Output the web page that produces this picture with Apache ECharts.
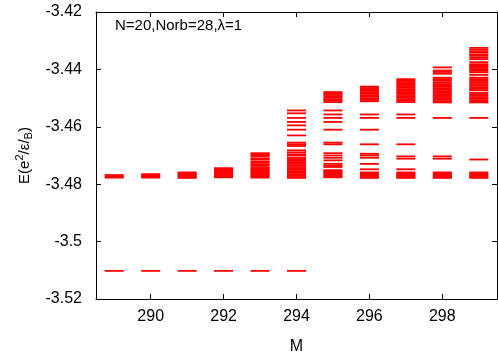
<!DOCTYPE html>
<html>
<head>
<meta charset="utf-8">
<script src="https://cdn.jsdelivr.net/npm/echarts@6/dist/echarts.min.js"></script>
<style>
  html, body { margin: 0; padding: 0; background: #fff; }
  #main { width: 498px; height: 360px; }
</style>
</head>
<body>
<div id="main"></div>
<script>
// energy levels per M
const mValues = [289, 290, 291, 292, 293, 294, 295, 296, 297, 298, 299];
const xTicks = [290, 292, 294, 296, 298];
const groundLevel = -3.5102;

const levels289 = [groundLevel, -3.4768, -3.4773, -3.4777];
const levels290 = [groundLevel, -3.4765, -3.4769, -3.4773, -3.4777];
const levels291 = [groundLevel, -3.4759, -3.4763, -3.4767, -3.4771, -3.4775, -3.4778];
const levels292 = [groundLevel, -3.4744, -3.4748, -3.4752, -3.4756, -3.4760, -3.4764, -3.4768, -3.4772, -3.4776];
const levels293 = [groundLevel, -3.4692, -3.4696, -3.4700, -3.4704, -3.4711, -3.4714, -3.4721, -3.4724,
  -3.4730, -3.4734, -3.4740, -3.4745, -3.4749, -3.4753, -3.4757, -3.4761, -3.4765, -3.4769, -3.4773, -3.4777];
const levels294 = [groundLevel, -3.4543, -3.4553, -3.4569, -3.4583, -3.4595, -3.4610, -3.4630, -3.4655,
  -3.4661, -3.4667, -3.4682, -3.4689, -3.4696, -3.4700, -3.4708, -3.4713, -3.4718, -3.4723, -3.4729,
  -3.4734, -3.4740, -3.4745, -3.4750, -3.4755, -3.4760, -3.4765, -3.4770, -3.4775, -3.4778];
const levels295 = [-3.4479, -3.4484, -3.4489, -3.4494, -3.4499, -3.4504, -3.4509, -3.4514, -3.4543,
  -3.4557, -3.4569, -3.4583, -3.4610, -3.4655, -3.4661, -3.4692, -3.4700, -3.4708, -3.4717, -3.4729,
  -3.4735, -3.4740, -3.4751, -3.4755, -3.4760, -3.4764, -3.4768, -3.4772, -3.4776];
const levels296 = [-3.4460, -3.4465, -3.4470, -3.4475, -3.4480, -3.4485, -3.4490, -3.4495, -3.4500,
  -3.4506, -3.4511, -3.4557, -3.4569, -3.4610, -3.4661, -3.4694, -3.4700, -3.4708, -3.4729, -3.4748,
  -3.4759, -3.4763, -3.4767, -3.4771, -3.4775, -3.4778];
const levels297 = [-3.4434, -3.4439, -3.4444, -3.4449, -3.4454, -3.4459, -3.4464, -3.4469, -3.4474,
  -3.4479, -3.4484, -3.4489, -3.4494, -3.4499, -3.4504, -3.4509, -3.4514, -3.4557, -3.4569, -3.4661,
  -3.4703, -3.4711, -3.4748, -3.4759, -3.4763, -3.4767, -3.4771, -3.4775, -3.4778];
const levels298 = [-3.4393, -3.4404, -3.4409, -3.4415, -3.4429, -3.4434, -3.4439, -3.4445, -3.4451,
  -3.4456, -3.4461, -3.4466, -3.4471, -3.4476, -3.4481, -3.4486, -3.4491, -3.4496, -3.4501, -3.4506,
  -3.4511, -3.4515, -3.4569, -3.4703, -3.4711, -3.4759, -3.4763, -3.4767, -3.4771, -3.4775, -3.4778];
const levels299 = [-3.4325, -3.4331, -3.4337, -3.4341, -3.4348, -3.4352, -3.4358, -3.4364, -3.4375,
  -3.4382, -3.4385, -3.4390, -3.4395, -3.4400, -3.4405, -3.4410, -3.4419, -3.4429, -3.4434, -3.4440,
  -3.4445, -3.4451, -3.4456, -3.4462, -3.4468, -3.4473, -3.4482, -3.4487, -3.4492, -3.4497, -3.4502,
  -3.4507, -3.4512, -3.4515, -3.4569, -3.4714, -3.4759, -3.4763, -3.4767, -3.4771, -3.4775, -3.4778];

const allLevels = [levels289, levels290, levels291, levels292, levels293, levels294,
  levels295, levels296, levels297, levels298, levels299];

const points = [];
mValues.forEach((m, i) => {
  allLevels[i].forEach(e => points.push([m, e]));
});

const font = 'Liberation Sans';
const chart = echarts.init(document.getElementById('main'), null, { renderer: 'canvas' });

const axisLine = { show: true, lineStyle: { color: '#000', width: 1 } };
const tick = { show: true, inside: true, length: 5, lineStyle: { color: '#000', width: 1 } };

chart.setOption({
  animation: false,
  grid: { left: 96, right: 1, top: 12, bottom: 51, show: false },
  graphic: [{
    type: 'text', left: 115, top: 18,
    style: { text: 'N=20,Norb=28,λ=1', font: '15px "Liberation Sans"', fill: '#000' }
  }],
  xAxis: [{
    type: 'value', min: 288.5, max: 299.5, position: 'bottom',
    name: 'M', nameLocation: 'middle', nameGap: 40,
    nameTextStyle: { fontFamily: font, fontSize: 16, color: '#000' },
    axisLine: axisLine,
    axisTick: Object.assign({ customValues: xTicks }, tick),
    axisLabel: { customValues: xTicks, fontFamily: font, fontSize: 16, color: '#000', margin: 10 },
    splitLine: { show: false }
  }, {
    type: 'value', min: 288.5, max: 299.5, position: 'top',
    axisLine: axisLine,
    axisTick: Object.assign({ customValues: xTicks }, tick),
    axisLabel: { show: false },
    splitLine: { show: false }
  }],
  yAxis: [{
    type: 'value', min: -3.52, max: -3.42, interval: 0.02, position: 'left',
    name: '{a|E(e}{sup|2}{a|/ε/}{sub|B}{a|)}',
    nameLocation: 'middle', nameRotate: 90, nameGap: 57,
    nameTextStyle: {
      fontFamily: font, fontSize: 15, color: '#000',
      rich: {
        a: { fontFamily: font, fontSize: 15, color: '#000', lineHeight: 20 },
        sup: { fontFamily: font, fontSize: 11, color: '#000', lineHeight: 20, verticalAlign: 'top', padding: [0, 0, 6, 0] },
        sub: { fontFamily: font, fontSize: 11, color: '#000', lineHeight: 20, verticalAlign: 'bottom', padding: [6, 0, 0, 0] }
      }
    },
    axisLine: axisLine,
    axisTick: tick,
    axisLabel: { fontFamily: font, fontSize: 16, color: '#000', margin: 14 },
    splitLine: { show: false }
  }, {
    type: 'value', min: -3.52, max: -3.42, interval: 0.02, position: 'right',
    axisLine: axisLine,
    axisTick: tick,
    axisLabel: { show: false },
    splitLine: { show: false }
  }],
  series: [{
    type: 'scatter',
    xAxisIndex: 0, yAxisIndex: 0,
    symbol: 'rect',
    symbolSize: [19, 1.8],
    itemStyle: { color: '#ff0000', opacity: 1 },
    data: points
  }]
});
</script>
</body>
</html>
